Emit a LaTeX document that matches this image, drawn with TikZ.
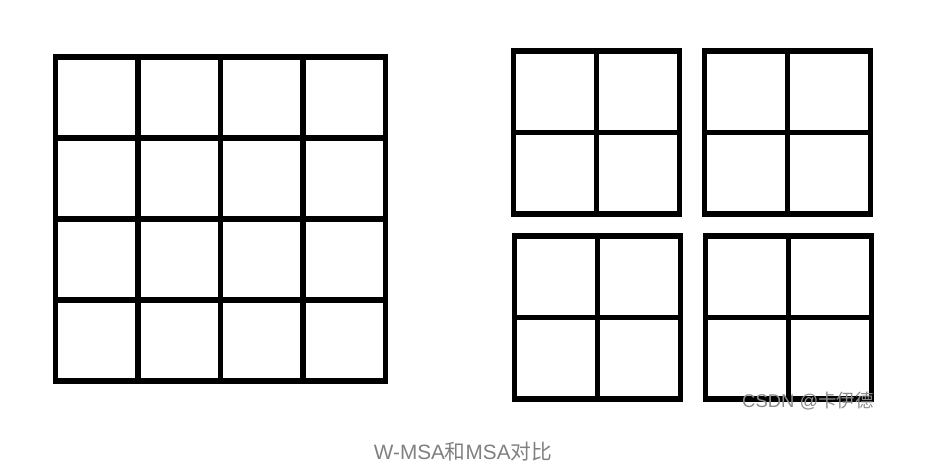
\documentclass[tikz,border=0pt]{standalone}
\usepackage{fontspec}
\setmainfont{Liberation Sans}
\newfontfamily\cjk{Noto Sans CJK SC}
\usetikzlibrary{positioning}
\tikzset{
    gridline/.style={draw, line width=3.2pt, line cap=rect},
    caption/.style={text=black!50, font=\fontsize{11.8}{13}\selectfont, inner sep=0pt},
    watermark/.style={text=black!45, font=\fontsize{10.5}{12}\selectfont, inner sep=0pt}
}

\begin{document}
\begin{tikzpicture}[x=0.02cm, y=-0.02cm]
    \useasboundingbox (0,0) rectangle (944,475);

    % MSA: one 4x4 grid
    \draw[gridline] (55.5,57) rectangle (385.5,381);
    \foreach \i in {1,2,3} {
        \draw[gridline] (55.5+82.5*\i,57) -- (55.5+82.5*\i,381);
        \draw[gridline] (55.5,57+81*\i) -- (385.5,57+81*\i);
    }

    % W-MSA: four 2x2 windows
    \foreach \x/\y in {513.5/51, 704.5/51, 514.5/236, 705.5/236} {
        \draw[gridline] (\x,\y) rectangle (\x+166,\y+163);
        \draw[gridline] (\x+83,\y) -- (\x+83,\y+163);
        \draw[gridline] (\x,\y+81.5) -- (\x+166,\y+81.5);
    }

    % labels
    \node[watermark, anchor=east] (mark_text) at (874,401) {CSDN @{\cjk 卡伊德}};
    \node[caption] (cmp_text) at (463,452) {W-MSA{\cjk 和}MSA{\cjk 对比}};
\end{tikzpicture}
\end{document}
